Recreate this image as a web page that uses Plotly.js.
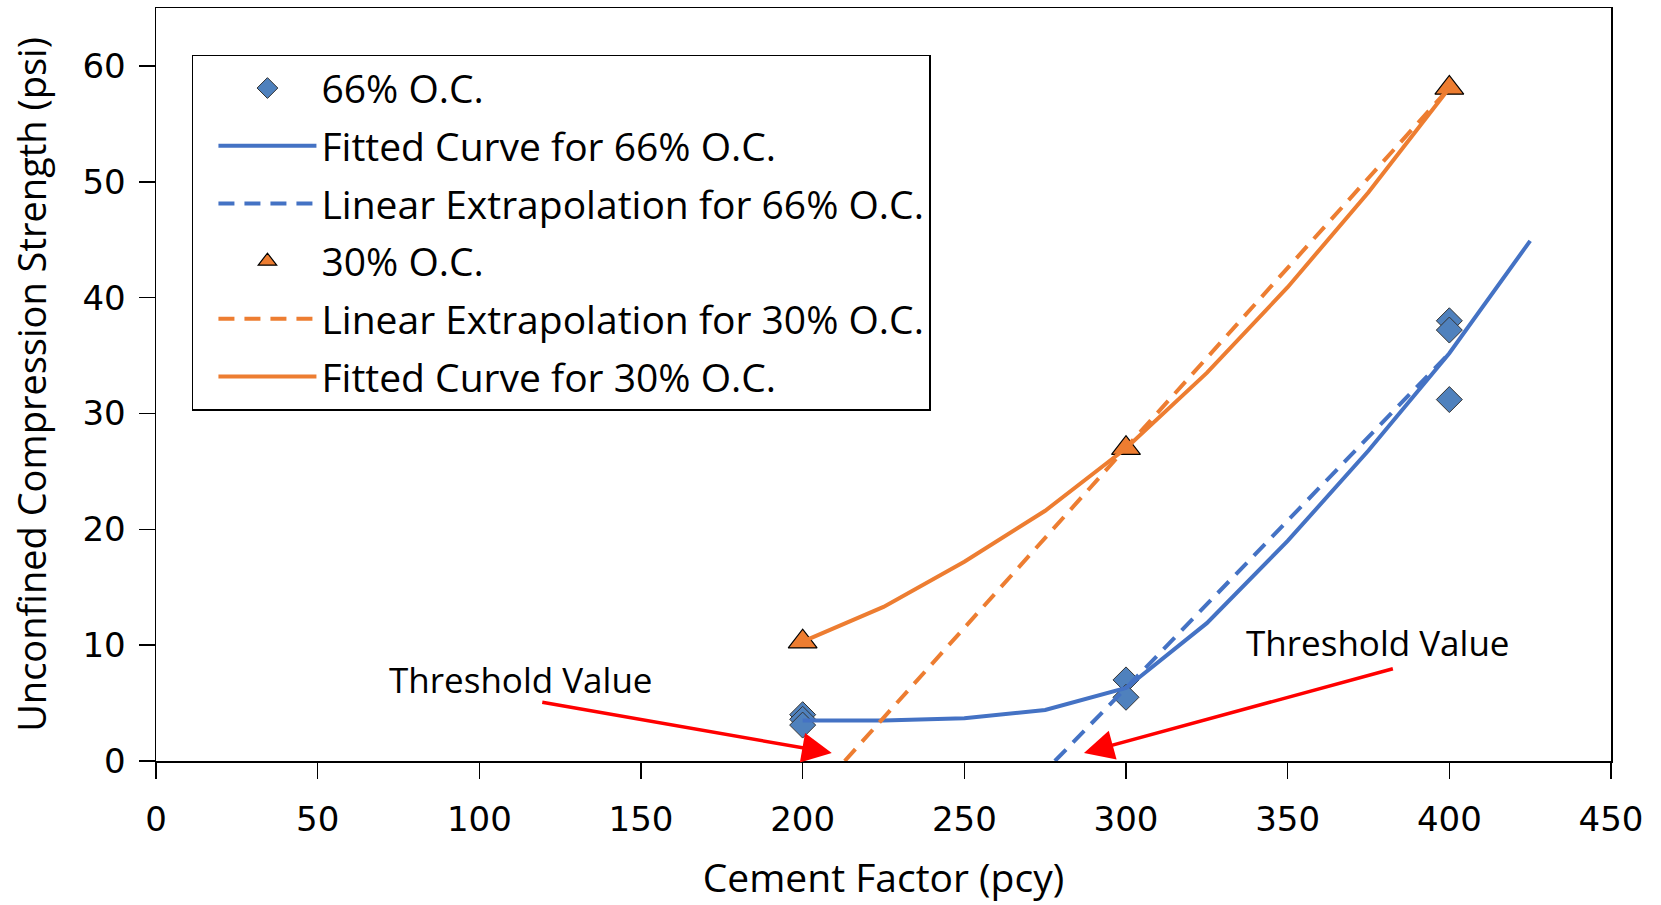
<!DOCTYPE html>
<html><head><meta charset="utf-8">
<script src="https://cdn.plot.ly/plotly-3.0.1.min.js"></script>
<style>html,body{margin:0;padding:0;background:#fff;}#chart{width:1661px;height:905px;}</style>
</head><body><div id="chart"></div>
<script>
// Measured data, 66% O.C.
const x66 = [200, 200, 200, 300, 300, 400, 400, 400];
const y66 = [4.0, 3.6, 3.1, 7.0, 5.5, 38.0, 37.2, 31.2];
// Fitted curve 66% O.C.
const xFit66 = [200, 225, 250, 275, 300, 325, 350, 375, 400, 425];
const yFit66 = [3.5, 3.5, 3.7, 4.4, 6.3, 11.9, 19.0, 26.8, 35.2, 44.9];
// Linear extrapolation 66% O.C.
const xLin66 = [278, 300, 400];
const yLin66 = [0, 6.3, 35.2];
// Measured data, 30% O.C.
const x30 = [200, 300, 400];
const y30 = [10.3, 27.0, 58.1];
// Linear extrapolation 30% O.C.
const xLin30 = [213, 300, 400];
const yLin30 = [0, 27.0, 58.1];
// Fitted curve 30% O.C.
const xFit30 = [200, 225, 250, 275, 300, 325, 350, 375, 400];
const yFit30 = [10.3, 13.3, 17.2, 21.6, 27.0, 33.5, 40.9, 49.1, 58.1];
// Threshold annotations: [headX, headY, tailX, tailY]
const arrowLeft = [209, 0.7, 119, 5.1];
const arrowRight = [287, 0.7, 383, 8.0];
const labelLeft = [113, 7.0];
const labelRight = [378, 10.2];
const thresholdText = "Threshold Value";

const BLUE = '#4472C4', BLUE_FILL = '#4F81BD', ORANGE = '#ED7D31';
const txtFont = '"Open Sans", "Noto Sans", sans-serif';
const tickFontFam = '"DejaVu Sans", sans-serif';

const traces = [
  {x: x66, y: y66, mode: 'markers', name: '66% O.C.', legendgroup: 'a',
   marker: {symbol: 'diamond', size: 20, color: BLUE_FILL, line: {color: '#333', width: 1}}},
  {x: xFit66, y: yFit66, mode: 'lines', name: 'Fitted Curve for 66% O.C.', legendgroup: 'b',
   line: {color: BLUE, width: 4}},
  {x: xLin66, y: yLin66, mode: 'lines', name: 'Linear Extrapolation for 66% O.C.', legendgroup: 'c',
   line: {color: BLUE, width: 4, dash: '16px,10px'}},
  {x: x30, y: y30, mode: 'markers', name: '30% O.C.', legendgroup: 'd',
   marker: {symbol: 'triangle-up', size: 25, color: ORANGE, line: {color: '#000', width: 1.2}}},
  {x: xLin30, y: yLin30, mode: 'lines', name: 'Linear Extrapolation for 30% O.C.', legendgroup: 'e',
   line: {color: ORANGE, width: 4, dash: '16px,10px'}},
  {x: xFit30, y: yFit30, mode: 'lines', name: 'Fitted Curve for 30% O.C.', legendgroup: 'f',
   line: {color: ORANGE, width: 4}}
];

function arrowAnn(a) {
  return {x: a[0], y: a[1], ax: a[2], ay: a[3], xref: 'x', yref: 'y', axref: 'x', ayref: 'y',
          text: '', showarrow: true, arrowhead: 2, arrowsize: 1.7, arrowwidth: 3.5,
          arrowcolor: '#FF0000', standoff: 0, startstandoff: 0};
}
function labelAnn(l) {
  return {x: l[0], y: l[1], xref: 'x', yref: 'y', text: thresholdText, showarrow: false,
          font: {family: txtFont, size: 35, color: '#000'}};
}

const layout = {
  width: 1661, height: 905,
  margin: {l: 156, r: 50, t: 8, b: 144},
  paper_bgcolor: '#fff', plot_bgcolor: '#fff',
  showlegend: true,
  legend: {x: 0.0247, y: 0.938, xanchor: 'left', yanchor: 'top',
           bgcolor: '#fff', bordercolor: '#000', borderwidth: 1.5,
           font: {family: txtFont, size: 39, color: '#000'},
           tracegroupgap: 4, itemwidth: 98, indentation: 20, traceorder: 'grouped'},
  xaxis: {range: [0, 450], tickvals: [0,50,100,150,200,250,300,350,400,450],
          showgrid: false, zeroline: false, showline: true, mirror: true,
          linecolor: '#000', linewidth: 1.5, ticks: 'outside', ticklen: 16, tickwidth: 1.5,
          tickcolor: '#000', ticklabelstandoff: 12,
          tickfont: {family: tickFontFam, size: 34, color: '#000'},
          title: {text: 'Cement Factor (pcy)', standoff: 26,
                  font: {family: txtFont, size: 39, color: '#000'}}},
  yaxis: {range: [0, 65], tickvals: [0,10,20,30,40,50,60],
          showgrid: false, zeroline: false, showline: true, mirror: true,
          linecolor: '#000', linewidth: 1.5, ticks: 'outside', ticklen: 16, tickwidth: 1.5,
          tickcolor: '#000', ticklabelstandoff: 6,
          tickfont: {family: tickFontFam, size: 34, color: '#000'},
          title: {text: 'Unconfined Compression Strength (psi)', standoff: 24,
                  font: {family: txtFont, size: 38, color: '#000'}}},
  annotations: [arrowAnn(arrowLeft), arrowAnn(arrowRight), labelAnn(labelLeft), labelAnn(labelRight)]
};

Plotly.newPlot('chart', traces, layout, {displayModeBar: false, staticPlot: true});
</script>
</body></html>
